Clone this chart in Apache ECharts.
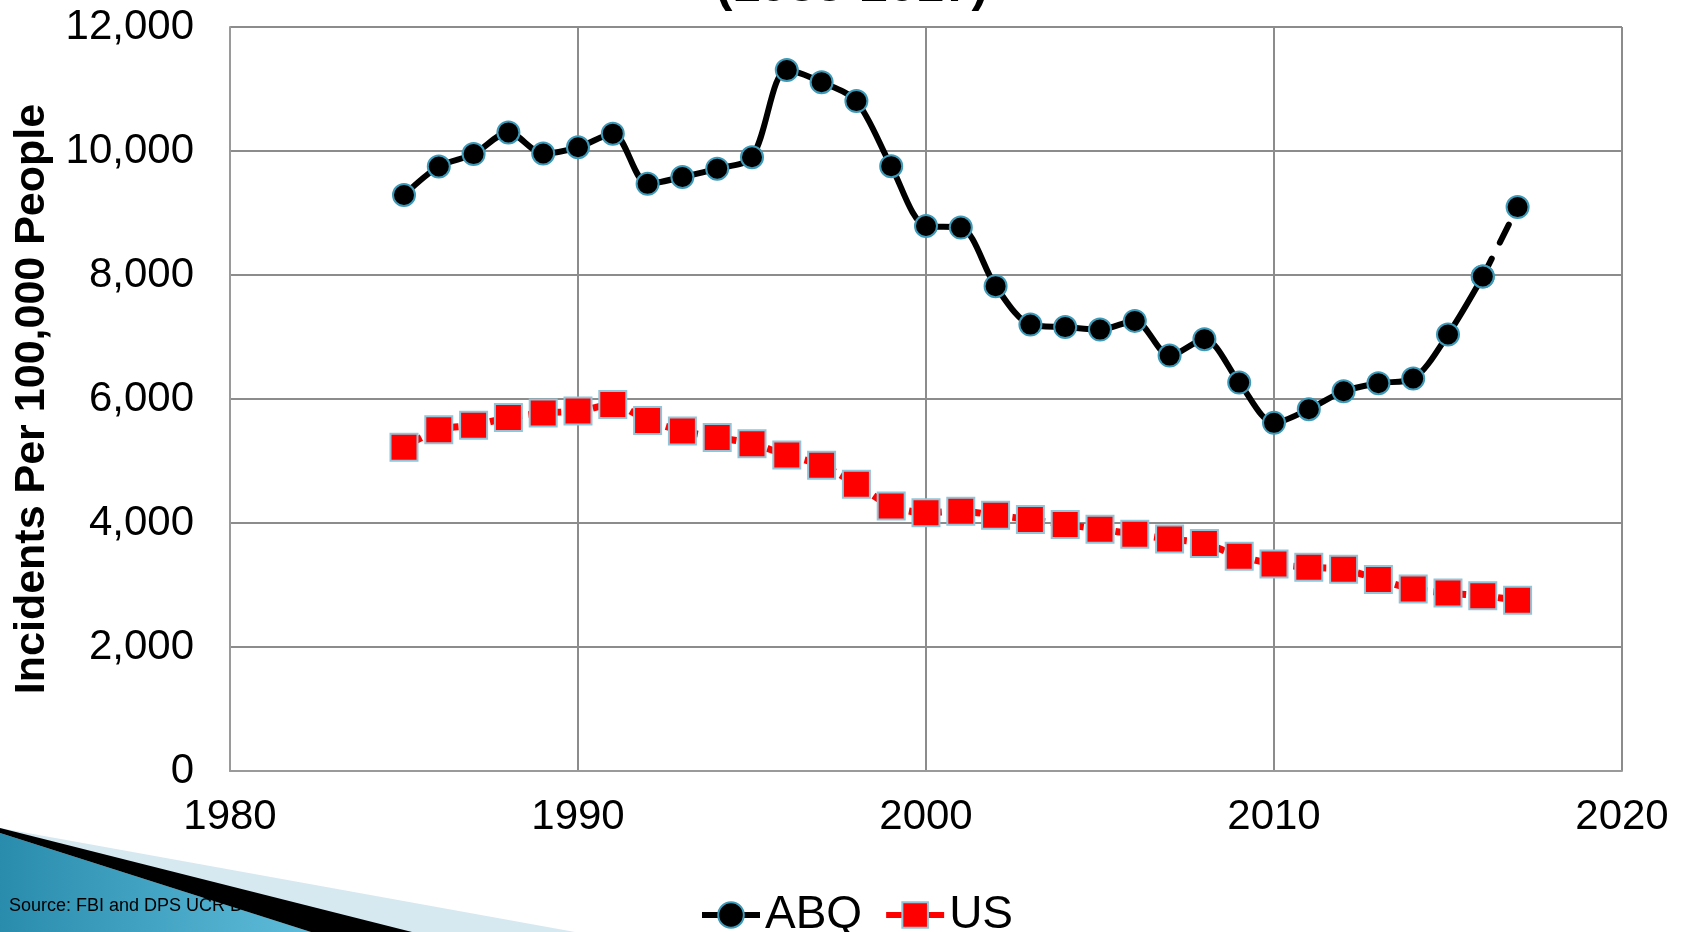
<!DOCTYPE html>
<html>
<head>
<meta charset="utf-8">
<script src="https://cdn.jsdelivr.net/npm/echarts@6/dist/echarts.min.js"></script>
<style>
  html, body { margin: 0; padding: 0; background: #fff; }
  #chart { width: 1688px; height: 932px; }
</style>
</head>
<body>
<div id="chart"></div>
<script>
// years on the x axis
const years = [1985, 1986, 1987, 1988, 1989, 1990, 1991, 1992, 1993, 1994, 1995,
  1996, 1997, 1998, 1999, 2000, 2001, 2002, 2003, 2004, 2005, 2006, 2007, 2008,
  2009, 2010, 2011, 2012, 2013, 2014, 2015, 2016, 2017]

// incidents per 100,000 people
const abqValues = [9290, 9750, 9950, 10300, 9960, 10060, 10280, 9470, 9580, 9715,
  9900, 11305, 11110, 10805, 9755, 8790, 8765, 7820, 7200, 7160, 7120, 7260, 6700,
  6965, 6265, 5615, 5835, 6125, 6255, 6330, 7040, 7975, 9095]
const usValues = [5220, 5505, 5575, 5700, 5775, 5805, 5910, 5655, 5485, 5380, 5280,
  5095, 4930, 4625, 4275, 4165, 4190, 4125, 4055, 3975, 3900, 3820, 3740, 3670,
  3465, 3340, 3285, 3255, 3090, 2935, 2870, 2825, 2755]

const FONT = '"Liberation Sans", Arial, sans-serif'

const pairs = (vals) => years.map((y, i) => [y, vals[i]])
const abqPairs = pairs(abqValues)
const usPairs = pairs(usValues)

const chart = echarts.init(document.getElementById('chart'))

//last ABQ segment is drawn dashed
const option = {
  animation: false,
  grid: { left: 230, right: 66, top: 27, bottom: 161 },
  graphic: [
    { type: 'text', z: 10, style: { x: 852, y: 12, text: '(1985-2017)', align: 'center', verticalAlign: 'bottom',
      font: 'bold 50px ' + FONT, fill: '#000' } },
    { type: 'polygon', z: 1, shape: { points: [[0, 828], [575, 932], [0, 932]] }, style: { fill: '#d6e9f1' } },
    { type: 'polygon', z: 2, shape: { points: [[0, 833], [311, 932], [0, 932]] },
      style: { fill: new echarts.graphic.LinearGradient(0, 0, 1, 0, [
        { offset: 0, color: '#2a8cad' }, { offset: 1, color: '#5ebcd9' }]) } },
    { type: 'text', z: 3, style: { x: 9, y: 906, text: 'Source: FBI and DPS UCR Data', verticalAlign: 'middle',
      font: '18px ' + FONT, fill: '#000' } },
    { type: 'polygon', z: 4, shape: { points: [[0, 828], [412, 932], [311, 932], [0, 833]] }, style: { fill: '#000' } }
  ],
  legend: {
    data: [
      { name: 'ABQ' },
      { name: 'US', lineStyle: { type: 'solid' } }
    ],
    left: 694,
    top: 887,
    itemWidth: 58,
    itemHeight: 32,
    itemGap: 21,
    lineStyle: { width: 6 },
    textStyle: { fontSize: 46, color: '#000', fontFamily: FONT }
  },
  xAxis: {
    type: 'value',
    min: 1980,
    max: 2020,
    interval: 10,
    axisLine: { show: true, lineStyle: { color: '#9a9a9a', width: 2 } },
    axisTick: { show: false },
    axisLabel: { fontSize: 42, color: '#000', fontFamily: FONT, margin: 25,
      formatter: v => String(v) },
    splitLine: { show: true, lineStyle: { color: '#8c8c8c', width: 2 } }
  },
  yAxis: {
    type: 'value',
    min: 0,
    max: 12000,
    interval: 2000,
    name: 'Incidents Per 100,000 People',
    nameLocation: 'middle',
    nameGap: 176,
    nameTextStyle: { fontSize: 43, fontWeight: 'bold', color: '#000', fontFamily: FONT },
    axisLine: { show: true, lineStyle: { color: '#9a9a9a', width: 2 } },
    axisTick: { show: false },
    axisLabel: { fontSize: 42, color: '#000', fontFamily: FONT, margin: 36,
      formatter: v => v.toLocaleString('en-US') },
    splitLine: { show: true, lineStyle: { color: '#8c8c8c', width: 2 } }
  },
  series: [
    {
      name: 'ABQ',
      type: 'line',
      data: abqPairs.slice(0, -1),
      smooth: 0.3,
      symbol: 'circle',
      symbolSize: 22,
      itemStyle: { color: '#000', borderColor: '#3d9ab8', borderWidth: 2 },
      lineStyle: { color: '#000', width: 6 },
      z: 3
    },
    {
      name: 'ABQ tail',
      type: 'line',
      data: abqPairs.slice(-2),
      symbol: 'circle',
      symbolSize: 22,
      itemStyle: { color: '#000', borderColor: '#3d9ab8', borderWidth: 2 },
      lineStyle: { color: '#000', width: 6, type: [20, 18], cap: 'round' },
      z: 3
    },
    {
      name: 'US',
      type: 'line',
      data: usPairs,
      smooth: 0.3,
      symbol: 'rect',
      symbolSize: 27,
      itemStyle: { color: '#ff0000', borderColor: '#92c5d8', borderWidth: 2 },
      lineStyle: { color: '#ff0000', width: 7, type: [7, 6] },
      z: 2
    }
  ]
}

chart.setOption(option)
</script>
</body>
</html>
